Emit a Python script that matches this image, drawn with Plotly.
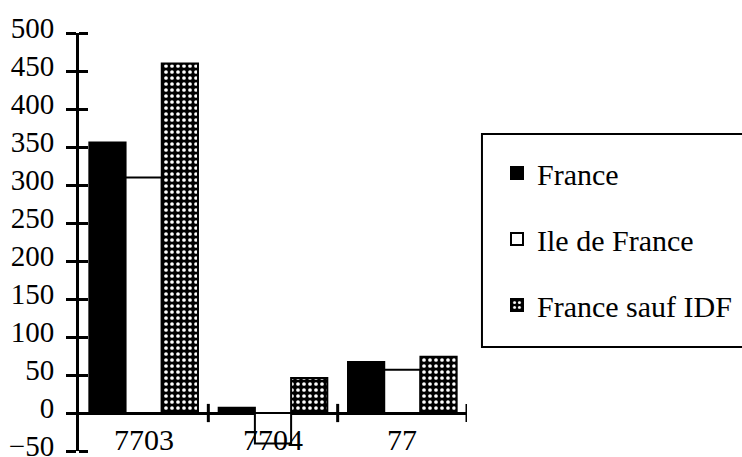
import plotly.graph_objects as go

categories = ["7703", "7704", "77"]
france = [356, 7, 67]
ile_de_france = [310, -40, 57]
france_sauf_idf = [460, 46, 74]

y_ticks = list(range(-50, 501, 50))

FONT = "Liberation Serif, Times New Roman, serif"

fig = go.Figure()
fig.add_trace(go.Bar(
    name="France", x=categories, y=france,
    marker=dict(color="black", line=dict(color="black", width=2)),
    legendgroup="a",
))
fig.add_trace(go.Bar(
    name="Ile de France", x=categories, y=ile_de_france,
    marker=dict(color="white", line=dict(color="black", width=2)),
    legendgroup="b",
))
fig.add_trace(go.Bar(
    name="France sauf IDF", x=categories, y=france_sauf_idf,
    marker=dict(color="black", line=dict(color="black", width=2),
                pattern=dict(shape=".", fgcolor="white", bgcolor="black",
                             size=6, solidity=0.3, fillmode="replace")),
    legendgroup="c",
))

# crossing tick marks on the zero line at the category boundaries
for b in [i + 0.5 for i in range(len(categories))]:
    fig.add_shape(type="line", xref="x", yref="y", x0=b, x1=b, y0=-12, y1=12,
                  line=dict(color="black", width=3))

# category labels sit at the foot of the value axis
for i, c in enumerate(categories):
    fig.add_annotation(x=i, y=-50, xref="x", yref="y", text=c, showarrow=False,
                       xanchor="center", yanchor="bottom", yshift=-7,
                       font=dict(family=FONT, size=30, color="black"))

# legend frame running off the right edge
fig.add_shape(type="rect", xref="paper", yref="paper",
              x0=(483 - 79) / 389, x1=(760 - 79) / 389,
              y0=(451 - 347) / 418, y1=(451 - 134) / 418,
              line=dict(color="black", width=2), fillcolor="rgba(0,0,0,0)")

fig.update_layout(
    width=742, height=457,
    margin=dict(l=79, r=274, t=33, b=6),
    paper_bgcolor="white", plot_bgcolor="white",
    barmode="group", bargap=0.16, bargroupgap=0,
    font=dict(family=FONT, size=29, color="black"),
    showlegend=True,
    legend=dict(x=(497 - 79) / 389, y=(451 - 147) / 418, xanchor="left", yanchor="top",
                bgcolor="rgba(0,0,0,0)", borderwidth=0,
                tracegroupgap=24, traceorder="grouped",
                font=dict(family=FONT, size=30, color="black")),
    xaxis=dict(range=[-0.5, 2.5], showline=False, showgrid=False, zeroline=False,
               ticks="", showticklabels=False, automargin=False),
    yaxis=dict(range=[-50, 500], tickvals=y_ticks, showgrid=False, automargin=False,
               showline=True, linecolor="black", linewidth=3,
               zeroline=True, zerolinecolor="black", zerolinewidth=3,
               ticks="outside", ticklen=10, tickwidth=3, tickcolor="black",
               ticklabelstandoff=6, ticklabelshift=-5, ticklabeloverflow="allow",
               tickfont=dict(family=FONT, size=29, color="black"),
               minor=dict(tickmode="array", tickvals=[v + 1e-6 for v in y_ticks],
                          ticks="inside", ticklen=9, tickwidth=3, tickcolor="black",
                          showgrid=False)),
)

fig.write_html("out.html")
